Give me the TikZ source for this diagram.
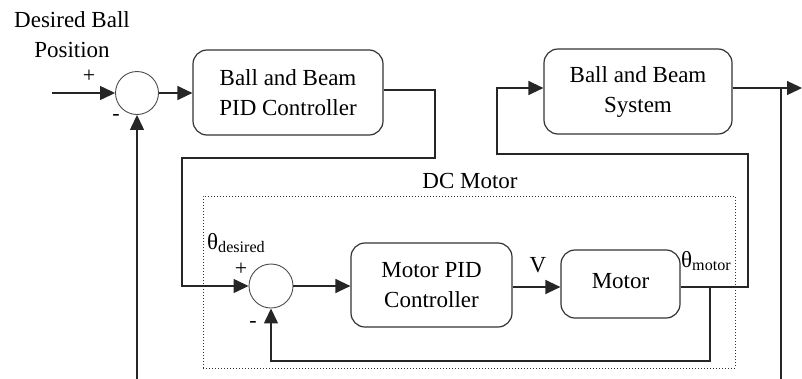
\documentclass[tikz,border=0pt]{standalone}
\usepackage{fontspec}
\setmainfont{Liberation Serif}
\usetikzlibrary{arrows.meta}
\begin{document}
\begin{tikzpicture}[x=1pt,y=-1pt,
  every node/.style={font=\fontsize{23}{30}\selectfont},
  blockbox/.style={draw=black!80,line width=1.2pt,rounded corners=14pt,align=center,inner sep=0pt},
  sumnode/.style={draw=black!70,line width=0.9pt,circle,inner sep=0pt},
  wire/.style={line width=1.3pt,draw=black!85},
  arr/.style={wire,-{Triangle[length=15pt,width=14pt]}},
  small/.style={font=\fontsize{22}{24}\selectfont}]
\useasboundingbox (0,0) rectangle (802,378);
% nodes
\node[sumnode,minimum size=43pt] (sum1) at (137,93) {};
\node[blockbox,minimum width=190pt,minimum height=85pt] (pid1) at (288,92.5) {Ball and Beam\\PID Controller};
\node[blockbox,minimum width=188pt,minimum height=85pt] (bbs) at (638,91.5) {Ball and Beam\\System};
\node[sumnode,minimum size=44pt] (sum2) at (271,286) {};
\node[blockbox,minimum width=161pt,minimum height=84pt] (mpid) at (431.5,285) {Motor PID\\Controller};
\node[blockbox,minimum width=119pt,minimum height=68pt] (motor) at (620.5,284) {\raisebox{6pt}{Motor}};
\node[draw=black!80,line width=1pt,dotted,minimum width=532pt,minimum height=172pt,inner sep=0pt] (dcbox) at (469,282) {};
% labels
\node[align=center] (lblin) at (72,35) {Desired Ball\\Position};
\node[small] (plus1) at (89,76) {+};
\node[small] (minus1) at (116,117) {-};
\node (lbldc) at (470,181) {DC Motor};
\node[anchor=west,inner sep=0pt] (lbltd) at (207,243) {θ\textsubscript{desired}};
\node[small] (plus2) at (241,269) {+};
\node[small] (minus2) at (253,324) {-};
\node (lblv) at (538,265) {V};
\node[anchor=west,inner sep=0pt] (lbltm) at (681,261) {θ\textsubscript{motor}};
% coordinates
\coordinate (in) at (52,93);
\coordinate (out) at (802,88);
\coordinate (tap) at (781,88);
\coordinate (tapend) at (781,380);
\coordinate (fbstart) at (137,380);
\coordinate (mtap) at (710,286);
% connectors
\draw[arr] (in) -- (sum1.west);
\draw[arr] (sum1.east) -- (sum1.east -| pid1.west);
\draw[arr] (pid1.east |- 0,90) -| (435,158) -| (182,286) -- (sum2.west);
\draw[arr] (sum2.east) -- (sum2.east -| mpid.west);
\draw[arr] (mpid.east |- 0,287) -- (motor.west |- 0,287);
\draw[arr] (motor.east |- 0,287) -- (748,287) |- (497,154) |- (bbs.west |- 0,88);
\draw[arr] (bbs.east |- 0,88) -- (out);
\draw[wire] (tap) -- (tapend);
\draw[arr] (fbstart) -- (sum1.south);
\draw[arr] (mtap |- 0,287) -- (710,361) -| (sum2.south);
\end{tikzpicture}
\end{document}
